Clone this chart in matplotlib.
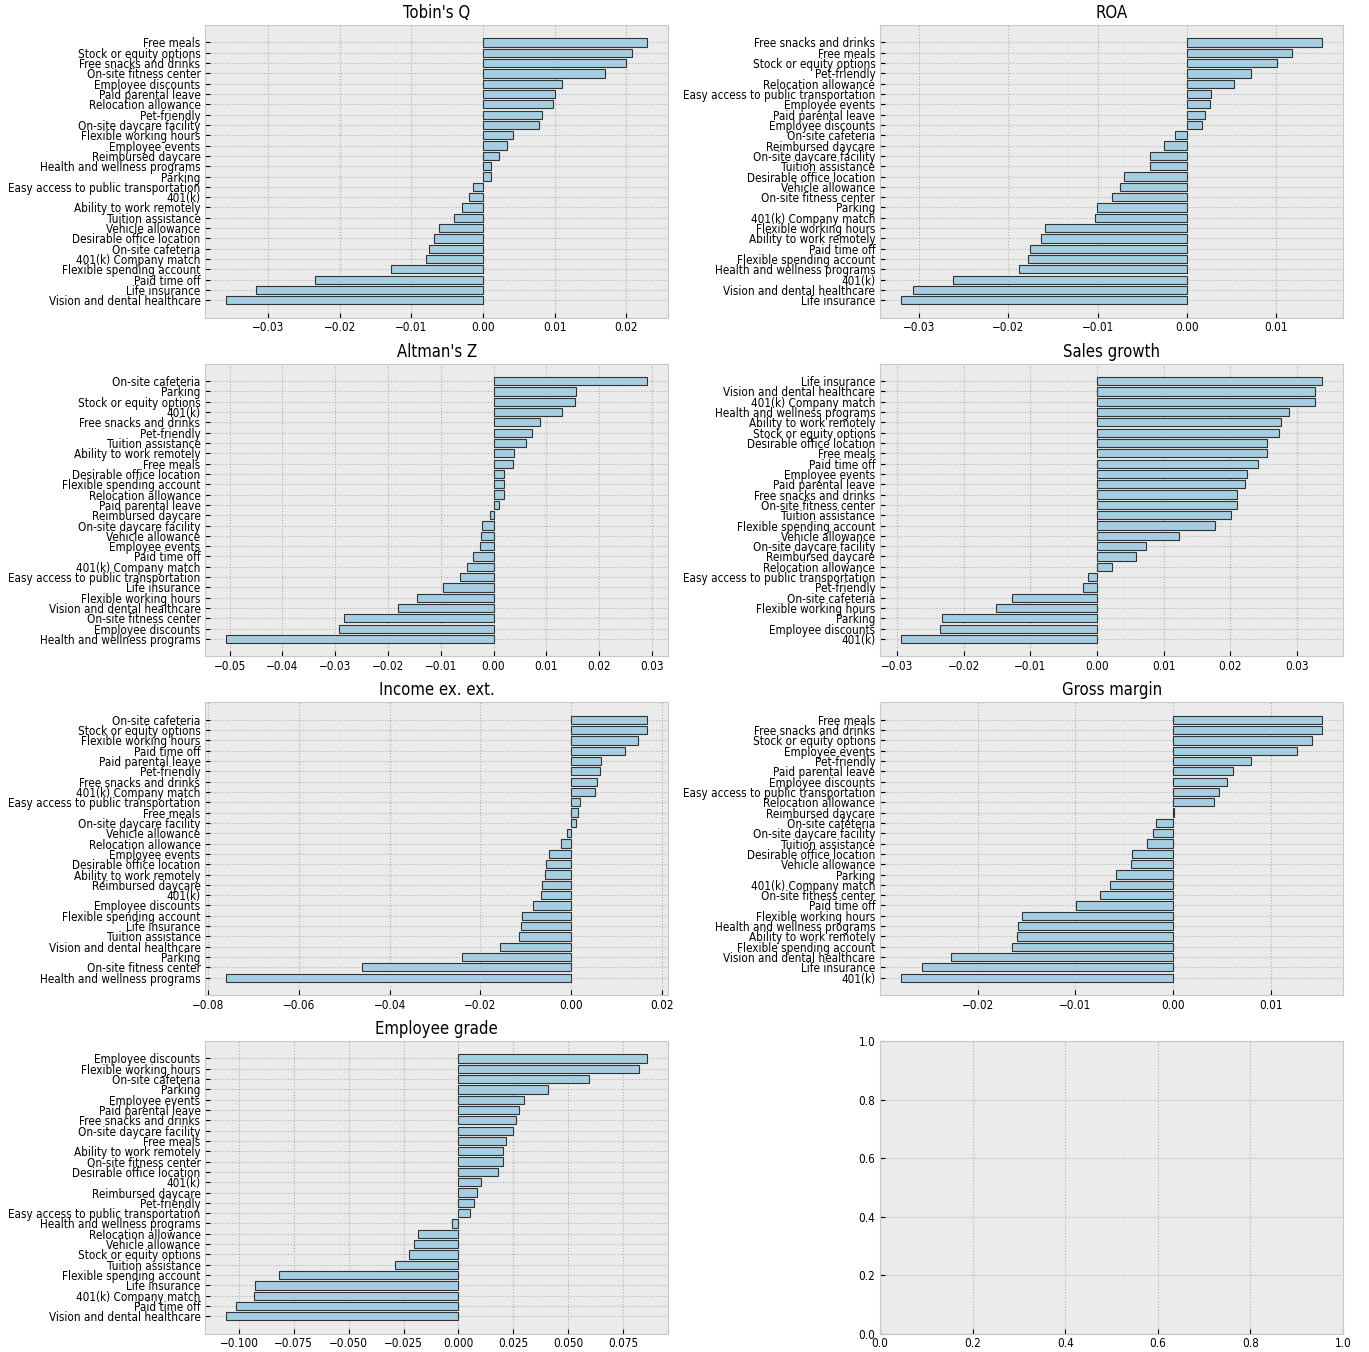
import numpy as np
import matplotlib
matplotlib.use('Agg')
import matplotlib.pyplot as plt

# labels listed top to bottom as they appear in each panel

tobin_labels = ['Free meals', 'Stock or equity options', 'Free snacks and drinks', 'On-site fitness center',
                'Employee discounts', 'Paid parental leave', 'Relocation allowance', 'Pet-friendly',
                'On-site daycare facility', 'Flexible working hours', 'Employee events', 'Reimbursed daycare',
                'Health and wellness programs', 'Parking', 'Easy access to public transportation', '401(k)',
                'Ability to work remotely', 'Tuition assistance', 'Vehicle allowance', 'Desirable office location',
                'On-site cafeteria', '401(k) Company match', 'Flexible spending account', 'Paid time off',
                'Life insurance', 'Vision and dental healthcare']
tobin_vals = [0.0229, 0.0208, 0.0200, 0.0170, 0.0110, 0.0100, 0.0098, 0.0082, 0.0078, 0.0042, 0.0033, 0.0022,
              0.0011, 0.0011, -0.0014, -0.0019, -0.0029, -0.0040, -0.0062, -0.0068, -0.0075, -0.0079,
              -0.0129, -0.0234, -0.0317, -0.0358]

roa_labels = ['Free snacks and drinks', 'Free meals', 'Stock or equity options', 'Pet-friendly',
              'Relocation allowance', 'Easy access to public transportation', 'Employee events',
              'Paid parental leave', 'Employee discounts', 'On-site cafeteria', 'Reimbursed daycare',
              'On-site daycare facility', 'Tuition assistance', 'Desirable office location', 'Vehicle allowance',
              'On-site fitness center', 'Parking', '401(k) Company match', 'Flexible working hours',
              'Ability to work remotely', 'Paid time off', 'Flexible spending account',
              'Health and wellness programs', '401(k)', 'Vision and dental healthcare', 'Life insurance']
roa_vals = [0.0151, 0.0118, 0.0101, 0.0072, 0.0053, 0.0027, 0.0026, 0.0020, 0.0017, -0.0013, -0.0026,
            -0.0041, -0.0041, -0.0071, -0.0075, -0.0084, -0.0101, -0.0103, -0.0159, -0.0163, -0.0176,
            -0.0178, -0.0188, -0.0262, -0.0307, -0.0320]

altman_labels = ['On-site cafeteria', 'Parking', 'Stock or equity options', '401(k)', 'Free snacks and drinks',
                 'Pet-friendly', 'Tuition assistance', 'Ability to work remotely', 'Free meals',
                 'Desirable office location', 'Flexible spending account', 'Relocation allowance',
                 'Paid parental leave', 'Reimbursed daycare', 'On-site daycare facility', 'Vehicle allowance',
                 'Employee events', 'Paid time off', '401(k) Company match', 'Easy access to public transportation',
                 'Life insurance', 'Flexible working hours', 'Vision and dental healthcare',
                 'On-site fitness center', 'Employee discounts', 'Health and wellness programs']
altman_vals = [0.0291, 0.0156, 0.0154, 0.0130, 0.0088, 0.0072, 0.0061, 0.0038, 0.0036, 0.0020, 0.0020,
               0.0019, 0.0011, -0.0007, -0.0021, -0.0024, -0.0025, -0.0039, -0.0051, -0.0063, -0.0096,
               -0.0144, -0.0181, -0.0283, -0.0293, -0.0506]

sales_labels = ['Life insurance', 'Vision and dental healthcare', '401(k) Company match',
                'Health and wellness programs', 'Ability to work remotely', 'Stock or equity options',
                'Desirable office location', 'Free meals', 'Paid time off', 'Employee events',
                'Paid parental leave', 'Free snacks and drinks', 'On-site fitness center', 'Tuition assistance',
                'Flexible spending account', 'Vehicle allowance', 'On-site daycare facility', 'Reimbursed daycare',
                'Relocation allowance', 'Easy access to public transportation', 'Pet-friendly',
                'On-site cafeteria', 'Flexible working hours', 'Parking', 'Employee discounts', '401(k)']
sales_vals = [0.0338, 0.0328, 0.0327, 0.0288, 0.0277, 0.0273, 0.0256, 0.0255, 0.0242, 0.0226, 0.0222,
              0.0210, 0.0210, 0.0201, 0.0177, 0.0123, 0.0073, 0.0059, 0.0023, -0.0013, -0.0021, -0.0127,
              -0.0151, -0.0232, -0.0235, -0.0294]

income_labels = ['On-site cafeteria', 'Stock or equity options', 'Flexible working hours', 'Paid time off',
                 'Paid parental leave', 'Pet-friendly', 'Free snacks and drinks', '401(k) Company match',
                 'Easy access to public transportation', 'Free meals', 'On-site daycare facility',
                 'Vehicle allowance', 'Relocation allowance', 'Employee events', 'Desirable office location',
                 'Ability to work remotely', 'Reimbursed daycare', '401(k)', 'Employee discounts',
                 'Flexible spending account', 'Life insurance', 'Tuition assistance',
                 'Vision and dental healthcare', 'Parking', 'On-site fitness center', 'Health and wellness programs']
income_vals = [0.0168, 0.0167, 0.0147, 0.0119, 0.0067, 0.0065, 0.0057, 0.0052, 0.0020, 0.0015, 0.0012,
               -0.0008, -0.0021, -0.0049, -0.0054, -0.0057, -0.0063, -0.0067, -0.0084, -0.0109, -0.0110,
               -0.0114, -0.0156, -0.0240, -0.0461, -0.0760]

gross_labels = ['Free meals', 'Free snacks and drinks', 'Stock or equity options', 'Employee events',
                'Pet-friendly', 'Paid parental leave', 'Employee discounts', 'Easy access to public transportation',
                'Relocation allowance', 'Reimbursed daycare', 'On-site cafeteria', 'On-site daycare facility',
                'Tuition assistance', 'Desirable office location', 'Vehicle allowance', 'Parking',
                '401(k) Company match', 'On-site fitness center', 'Paid time off', 'Flexible working hours',
                'Health and wellness programs', 'Ability to work remotely', 'Flexible spending account',
                'Vision and dental healthcare', 'Life insurance', '401(k)']
gross_vals = [0.0152, 0.0152, 0.0142, 0.0126, 0.0080, 0.0061, 0.0055, 0.0047, 0.0042, 0.0001, -0.0018,
              -0.0021, -0.0027, -0.0042, -0.0043, -0.0058, -0.0065, -0.0075, -0.0099, -0.0155, -0.0159,
              -0.0160, -0.0165, -0.0227, -0.0257, -0.0278]

grade_labels = ['Employee discounts', 'Flexible working hours', 'On-site cafeteria', 'Parking', 'Employee events',
                'Paid parental leave', 'Free snacks and drinks', 'On-site daycare facility', 'Free meals',
                'Ability to work remotely', 'On-site fitness center', 'Desirable office location', '401(k)',
                'Reimbursed daycare', 'Pet-friendly', 'Easy access to public transportation',
                'Health and wellness programs', 'Relocation allowance', 'Vehicle allowance',
                'Stock or equity options', 'Tuition assistance', 'Flexible spending account', 'Life insurance',
                '401(k) Company match', 'Paid time off', 'Vision and dental healthcare']
grade_vals = [0.0860, 0.0823, 0.0596, 0.0408, 0.0300, 0.0276, 0.0264, 0.0247, 0.0219, 0.0205, 0.0203,
              0.0181, 0.0103, 0.0085, 0.0073, 0.0053, -0.0028, -0.0183, -0.0201, -0.0225, -0.0288, -0.0819,
              -0.0925, -0.0931, -0.1014, -0.1057]

titles = ["Tobin's Q", 'ROA', "Altman's Z", 'Sales growth', 'Income ex. ext.', 'Gross margin', 'Employee grade']
all_labels = [tobin_labels, roa_labels, altman_labels, sales_labels, income_labels, gross_labels, grade_labels]
all_vals = [tobin_vals, roa_vals, altman_vals, sales_vals, income_vals, gross_vals, grade_vals]

plt.style.use('bmh')
plt.rcParams['font.family'] = 'DejaVu Sans'
plt.rcParams['font.stretch'] = 'condensed'
plt.rcParams['xtick.labelsize'] = 8.4
plt.rcParams['ytick.labelsize'] = 8.4
plt.rcParams['xtick.major.pad'] = 2.5
plt.rcParams['axes.titlesize'] = 12
plt.rcParams['axes.titlepad'] = 5
plt.rcParams['axes.facecolor'] = '#ebebeb'
plt.rcParams['axes.edgecolor'] = '#c8c8c8'
plt.rcParams['grid.linestyle'] = ':'
plt.rcParams['grid.linewidth'] = 0.8
plt.rcParams['grid.color'] = '#b0b0b0'

fig, axes = plt.subplots(4, 2, figsize=(13.69, 13.52), dpi=100)
fig.subplots_adjust(left=0.15, right=0.981, top=0.9815, bottom=0.0135, wspace=0.458, hspace=0.157)

for ax, title, labels, vals in zip(axes.flat, titles, all_labels, all_vals):
    ax.barh(labels[::-1], vals[::-1], height=0.8, color='#a6cee3', edgecolor='#333333', linewidth=0.8)
    ax.set_title(title)
    ax.set_axisbelow(True)

fig.savefig('out.png', dpi=100)
